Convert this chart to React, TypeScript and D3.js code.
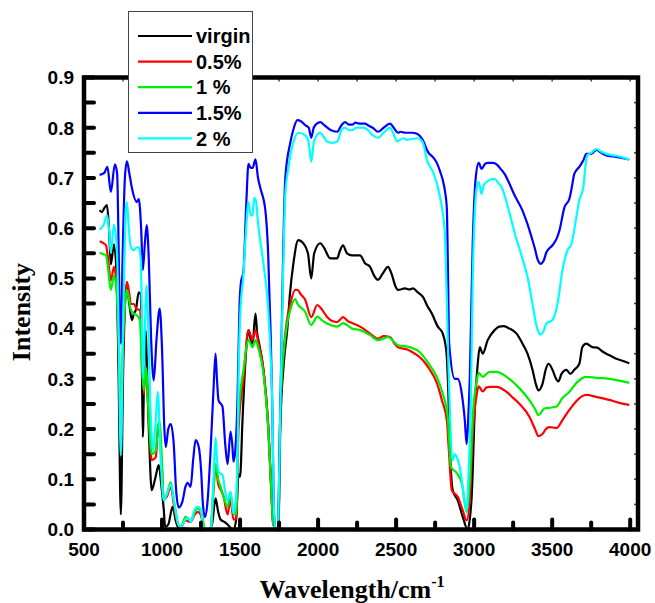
import React from "react";
import * as d3 from "d3";

type P = [number, number];

const seriesNames = ["virgin", "0.5%", "1 %", "1.5%", "2 %"];
const seriesColors = ["#000000", "#ff0000", "#00ee00", "#0000ff", "#00ffff"];
const xTicks = [500, 1000, 1500, 2000, 2500, 3000, 3500, 4000];
const yTicks = [0, 0.1, 0.2, 0.3, 0.4, 0.5, 0.6, 0.7, 0.8, 0.9];

const virgin: P[] = [[600,0.636],[615,0.632],[630,0.64],[647,0.646],[660,0.6],[672,0.528],[692,0.568],[711,0.488],[722,0.3],[736,0.03],[750,0.3],[768,0.477],[775,0.483],[790,0.45],[807,0.417],[820,0.43],[832,0.437],[851,0.472],[864,0.468],[870,0.35],[877,0.184],[887,0.35],[896,0.397],[905,0.3],[915,0.204],[934,0.078],[955,0.1],[979,0.128],[995,0.09],[1011,0.04],[1020,0.005],[1040,0.01],[1068,0.045],[1090,0.015],[1107,0.003],[1150,0.002],[1200,0],[1260,0],[1300,0],[1320,0.01],[1343,0.062],[1360,0.035],[1375,0.02],[1400,0.015],[1420,0.01],[1440,0.003],[1458,0],[1475,0.02],[1490,0.11],[1500,0.105],[1516,0.22],[1535,0.338],[1554,0.397],[1570,0.375],[1580,0.37],[1599,0.43],[1610,0.39],[1618,0.377],[1650,0.318],[1681,0.204],[1700,0.08],[1713,0.01],[1745,0],[1758,0.204],[1780,0.33],[1803,0.4],[1820,0.47],[1841,0.528],[1873,0.576],[1905,0.57],[1935,0.55],[1956,0.5],[1975,0.55],[2014,0.57],[2040,0.56],[2077,0.54],[2122,0.54],[2140,0.555],[2160,0.566],[2185,0.55],[2218,0.546],[2269,0.546],[2301,0.53],[2333,0.523],[2360,0.505],[2384,0.497],[2415,0.51],[2448,0.523],[2470,0.51],[2495,0.485],[2512,0.477],[2557,0.48],[2585,0.478],[2608,0.48],[2640,0.472],[2672,0.463],[2700,0.445],[2729,0.43],[2767,0.404],[2799,0.39],[2815,0.37],[2825,0.343],[2835,0.27],[2844,0.17],[2863,0.078],[2895,0.058],[2927,0.025],[2959,0],[2972,0.02],[2985,0.07],[3004,0.238],[3023,0.33],[3036,0.363],[3055,0.35],[3087,0.377],[3131,0.397],[3160,0.404],[3190,0.405],[3227,0.4],[3272,0.39],[3310,0.37],[3342,0.35],[3374,0.318],[3395,0.29],[3412,0.277],[3438,0.29],[3460,0.32],[3476,0.33],[3502,0.318],[3525,0.3],[3540,0.295],[3560,0.31],[3591,0.318],[3617,0.31],[3642,0.318],[3674,0.33],[3693,0.363],[3719,0.37],[3757,0.363],[3789,0.362],[3820,0.355],[3847,0.35],[3880,0.345],[3911,0.34],[3950,0.336],[3994,0.331]];

const pct05: P[] = [[600,0.574],[625,0.57],[641,0.566],[653,0.542],[672,0.496],[692,0.523],[711,0.477],[722,0.35],[736,0.17],[750,0.35],[768,0.477],[775,0.493],[790,0.47],[800,0.449],[819,0.449],[838,0.439],[858,0.437],[870,0.377],[883,0.27],[896,0.318],[915,0.224],[934,0.138],[960,0.144],[975,0.2],[985,0.19],[1000,0.12],[1011,0.06],[1030,0.065],[1056,0.085],[1080,0.04],[1107,0.008],[1120,0.005],[1151,0.018],[1183,0.015],[1210,0.03],[1228,0.035],[1247,0.03],[1273,0],[1311,0],[1330,0.08],[1343,0.13],[1360,0.09],[1375,0.08],[1395,0.065],[1420,0.03],[1439,0.06],[1458,0.02],[1475,0.02],[1490,0.2],[1522,0.3],[1554,0.397],[1580,0.377],[1599,0.397],[1618,0.37],[1650,0.318],[1681,0.204],[1700,0.08],[1713,0.01],[1745,0],[1758,0.24],[1790,0.39],[1822,0.449],[1854,0.477],[1867,0.477],[1890,0.468],[1918,0.457],[1956,0.423],[1995,0.447],[2020,0.44],[2058,0.423],[2090,0.415],[2122,0.413],[2160,0.423],[2190,0.415],[2218,0.411],[2269,0.404],[2333,0.39],[2384,0.38],[2420,0.385],[2461,0.383],[2490,0.37],[2512,0.363],[2576,0.358],[2620,0.35],[2652,0.343],[2690,0.33],[2716,0.318],[2761,0.292],[2793,0.258],[2825,0.218],[2838,0.158],[2857,0.078],[2895,0.065],[2927,0.038],[2952,0.018],[2972,0.058],[2991,0.19],[3017,0.27],[3029,0.285],[3055,0.275],[3080,0.283],[3100,0.284],[3144,0.284],[3208,0.274],[3250,0.262],[3291,0.25],[3355,0.224],[3390,0.2],[3412,0.186],[3438,0.19],[3460,0.2],[3483,0.204],[3528,0.202],[3566,0.218],[3610,0.238],[3662,0.258],[3690,0.265],[3719,0.268],[3783,0.264],[3866,0.258],[3930,0.252],[3994,0.248]];

const pct1: P[] = [[600,0.551],[625,0.548],[641,0.546],[653,0.523],[672,0.477],[692,0.506],[711,0.463],[722,0.38],[736,0.24],[750,0.38],[768,0.463],[775,0.477],[790,0.455],[800,0.437],[819,0.43],[838,0.427],[858,0.417],[870,0.33],[883,0.277],[896,0.323],[915,0.224],[934,0.15],[960,0.158],[975,0.21],[985,0.214],[1000,0.13],[1011,0.058],[1030,0.07],[1056,0.094],[1080,0.05],[1107,0.008],[1120,0.005],[1151,0.025],[1183,0.018],[1210,0.035],[1228,0.042],[1260,0.025],[1273,0],[1311,0],[1330,0.08],[1343,0.13],[1360,0.1],[1375,0.085],[1400,0.06],[1420,0.045],[1439,0.073],[1458,0.032],[1475,0.03],[1490,0.23],[1522,0.318],[1554,0.377],[1580,0.363],[1599,0.377],[1618,0.36],[1650,0.31],[1681,0.198],[1700,0.08],[1713,0.01],[1745,0],[1758,0.24],[1790,0.383],[1822,0.437],[1854,0.459],[1867,0.45],[1918,0.433],[1956,0.407],[1995,0.424],[2020,0.418],[2058,0.41],[2122,0.404],[2160,0.411],[2218,0.4],[2269,0.397],[2333,0.387],[2384,0.377],[2448,0.383],[2512,0.367],[2589,0.363],[2652,0.353],[2716,0.327],[2761,0.304],[2799,0.27],[2831,0.224],[2851,0.125],[2889,0.112],[2921,0.092],[2952,0.035],[2972,0.092],[2991,0.224],[3017,0.297],[3029,0.312],[3055,0.304],[3100,0.314],[3144,0.314],[3208,0.304],[3291,0.281],[3355,0.257],[3390,0.24],[3412,0.228],[3451,0.241],[3496,0.243],[3528,0.245],[3566,0.262],[3610,0.274],[3662,0.294],[3719,0.304],[3783,0.302],[3866,0.3],[3994,0.292]];

const pct15: P[] = [[600,0.706],[630,0.71],[650,0.722],[672,0.672],[698,0.727],[712,0.71],[728,0.45],[736,0.37],[748,0.55],[762,0.7],[775,0.733],[790,0.71],[807,0.68],[838,0.652],[851,0.658],[866,0.6],[877,0.517],[890,0.57],[902,0.606],[915,0.54],[930,0.38],[947,0.297],[965,0.38],[985,0.44],[1000,0.36],[1015,0.2],[1024,0.164],[1040,0.2],[1056,0.21],[1075,0.17],[1090,0.08],[1107,0.044],[1130,0.055],[1150,0.085],[1164,0.093],[1183,0.085],[1200,0.14],[1215,0.178],[1235,0.165],[1250,0.12],[1262,0.05],[1275,0.025],[1290,0.05],[1310,0.15],[1330,0.28],[1343,0.35],[1352,0.3],[1362,0.257],[1387,0.245],[1405,0.17],[1420,0.13],[1439,0.195],[1450,0.17],[1458,0.135],[1470,0.16],[1483,0.25],[1497,0.45],[1505,0.49],[1522,0.515],[1540,0.65],[1554,0.728],[1568,0.72],[1580,0.72],[1599,0.737],[1615,0.7],[1630,0.68],[1662,0.636],[1680,0.55],[1695,0.4],[1707,0.24],[1716,0.05],[1726,0],[1742,0],[1750,0.1],[1758,0.24],[1770,0.45],[1790,0.7],[1822,0.77],[1845,0.8],[1867,0.815],[1890,0.813],[1918,0.805],[1940,0.8],[1956,0.78],[1972,0.8],[2000,0.81],[2014,0.811],[2040,0.805],[2077,0.796],[2122,0.792],[2150,0.805],[2173,0.811],[2200,0.806],[2218,0.806],[2240,0.81],[2269,0.808],[2300,0.808],[2320,0.805],[2350,0.8],[2384,0.792],[2420,0.8],[2461,0.808],[2485,0.8],[2512,0.79],[2530,0.792],[2557,0.79],[2600,0.79],[2633,0.788],[2672,0.775],[2704,0.752],[2740,0.74],[2761,0.73],[2785,0.71],[2799,0.696],[2815,0.67],[2825,0.64],[2833,0.5],[2840,0.37],[2876,0.3],[2895,0.3],[2921,0.27],[2940,0.218],[2952,0.17],[2962,0.22],[2972,0.3],[2991,0.57],[3010,0.7],[3029,0.73],[3048,0.718],[3070,0.728],[3087,0.73],[3120,0.73],[3144,0.727],[3170,0.718],[3195,0.708],[3227,0.688],[3260,0.665],[3310,0.635],[3342,0.608],[3370,0.58],[3387,0.562],[3410,0.535],[3425,0.529],[3445,0.535],[3463,0.552],[3502,0.566],[3530,0.58],[3547,0.596],[3579,0.642],[3610,0.658],[3625,0.68],[3642,0.708],[3674,0.722],[3700,0.735],[3719,0.748],[3751,0.748],[3783,0.756],[3815,0.75],[3847,0.745],[3890,0.743],[3930,0.741],[3960,0.739],[3994,0.737]];

const pct2: P[] = [[600,0.597],[628,0.608],[647,0.626],[660,0.6],[672,0.55],[692,0.607],[711,0.556],[722,0.4],[736,0.147],[750,0.4],[768,0.636],[775,0.652],[787,0.6],[800,0.562],[819,0.556],[838,0.562],[851,0.562],[864,0.537],[872,0.4],[880,0.3],[890,0.4],[902,0.486],[912,0.4],[925,0.25],[941,0.158],[960,0.22],[973,0.274],[990,0.15],[1011,0.058],[1030,0.07],[1056,0.09],[1080,0.05],[1100,0.015],[1120,0.005],[1151,0.02],[1170,0.022],[1183,0.015],[1210,0.04],[1228,0.045],[1247,0.042],[1262,0.01],[1273,0],[1311,0],[1330,0.105],[1343,0.183],[1352,0.14],[1362,0.115],[1388,0.108],[1405,0.075],[1420,0.058],[1439,0.075],[1458,0.032],[1470,0.05],[1483,0.125],[1490,0.3],[1503,0.44],[1520,0.5],[1535,0.58],[1554,0.652],[1568,0.625],[1580,0.626],[1590,0.66],[1599,0.658],[1618,0.602],[1650,0.529],[1681,0.436],[1695,0.35],[1707,0.24],[1716,0.05],[1726,0],[1742,0],[1750,0.1],[1758,0.24],[1775,0.5],[1790,0.668],[1810,0.72],[1822,0.745],[1841,0.77],[1873,0.79],[1918,0.785],[1940,0.77],[1956,0.732],[1975,0.775],[2014,0.79],[2040,0.78],[2058,0.772],[2090,0.77],[2122,0.772],[2150,0.795],[2173,0.8],[2200,0.795],[2218,0.795],[2245,0.8],[2269,0.8],[2295,0.8],[2320,0.795],[2350,0.785],[2384,0.78],[2420,0.79],[2461,0.8],[2480,0.79],[2506,0.773],[2544,0.779],[2570,0.776],[2589,0.777],[2640,0.779],[2672,0.77],[2697,0.736],[2736,0.712],[2767,0.682],[2793,0.642],[2812,0.59],[2825,0.457],[2835,0.33],[2844,0.24],[2863,0.138],[2875,0.15],[2889,0.144],[2908,0.124],[2927,0.084],[2952,0.038],[2965,0.12],[2978,0.24],[2991,0.5],[3017,0.682],[3029,0.692],[3048,0.668],[3060,0.685],[3080,0.692],[3105,0.697],[3131,0.698],[3155,0.69],[3176,0.682],[3200,0.66],[3227,0.63],[3260,0.59],[3304,0.545],[3342,0.503],[3374,0.449],[3400,0.405],[3425,0.388],[3445,0.395],[3463,0.41],[3502,0.417],[3534,0.449],[3566,0.517],[3598,0.556],[3623,0.568],[3655,0.622],[3674,0.656],[3700,0.682],[3712,0.72],[3725,0.745],[3751,0.75],[3783,0.758],[3815,0.752],[3847,0.748],[3890,0.745],[3930,0.743],[3960,0.74],[3994,0.737]];

const allSeries = [virgin, pct05, pct1, pct15, pct2];

const W = 655, H = 603;
const L = 84, R = 638, T = 77.5, B = 529.5;

export default function App() {
  const x = d3.scaleLinear().domain([500, 4050]).range([L, R]);
  const y = d3.scaleLinear().domain([0, 0.9]).range([B, T]);
  const line = d3.line<P>().x(d => x(d[0])).y(d => y(d[1])).curve(d3.curveMonotoneX);
  const minorX = d3.range(500, 4050, 250);
  const minorY = d3.range(0, 0.9001, 0.05);
  const font = "'Liberation Sans', Arial, sans-serif";
  const serif = "'Liberation Serif', 'Times New Roman', serif";
  return (
    <svg width={W} height={H} style={{ position: "absolute", left: 0, top: 0, background: "#fff" }}>
      <defs>
        <clipPath id="plot"><rect x={L} y={T} width={R - L} height={B - T} /></clipPath>
      </defs>
      <g clipPath="url(#plot)">
        {allSeries.map((s, i) => (
          <path key={i} d={line(s) || ""} fill="none" stroke={seriesColors[i]} strokeWidth={2.2} strokeLinejoin="round" />
        ))}
      </g>
      {minorX.map((v, i) => (
        <line key={"tt" + i} x1={x(v)} x2={x(v)} y1={T} y2={T + 4} stroke="#444" strokeWidth={1.5} />
      ))}
      {minorY.map((v, i) => (
        <line key={"rt" + i} x1={R} x2={R - 4} y1={y(v)} y2={y(v)} stroke="#444" strokeWidth={1.5} />
      ))}
      {minorX.map((v, i) => {
        const major = v % 500 === 0;
        return <line key={"bt" + i} x1={x(v)} x2={x(v)} y1={B} y2={B - (major ? 10 : 7)} stroke="#000" strokeWidth={4} strokeLinecap="round" />;
      })}
      {minorY.map((v, i) => (
        <line key={"lt" + i} x1={L} x2={L + 10} y1={y(v)} y2={y(v)} stroke="#000" strokeWidth={4} strokeLinecap="round" />
      ))}
      <rect x={L} y={T} width={R - L} height={B - T} fill="none" stroke="#000" strokeWidth={4.5} />
      {xTicks.map(v => (
        <text key={"xl" + v} x={x(v)} y={556} textAnchor="middle" fontFamily={font} fontWeight="bold" fontSize={19}>{v}</text>
      ))}
      {yTicks.map(v => (
        <text key={"yl" + v} x={74} y={y(v)} dy="0.36em" textAnchor="end" fontFamily={font} fontWeight="bold" fontSize={19}>{v.toFixed(1)}</text>
      ))}
      <text x={352} y={598} textAnchor="middle" fontFamily={serif} fontWeight="bold" fontSize={26}>
        Wavelength/cm<tspan dy={-11} fontSize={16}>-1</tspan>
      </text>
      <text transform="translate(30,312) rotate(-90)" textAnchor="middle" fontFamily={serif} fontWeight="bold" fontSize={26}>Intensity</text>
      <rect x={128.5} y={11.5} width={124} height={141} fill="#fff" stroke="#444" strokeWidth={1} />
      {seriesNames.map((n, i) => {
        const yy = 36 + i * 25.6;
        return (
          <g key={n}>
            <line x1={138} x2={192} y1={yy} y2={yy} stroke={seriesColors[i]} strokeWidth={2.2} />
            <text x={196} y={yy} dy="0.36em" fontFamily={font} fontWeight="bold" fontSize={20}>{n}</text>
          </g>
        );
      })}
    </svg>
  );
}
